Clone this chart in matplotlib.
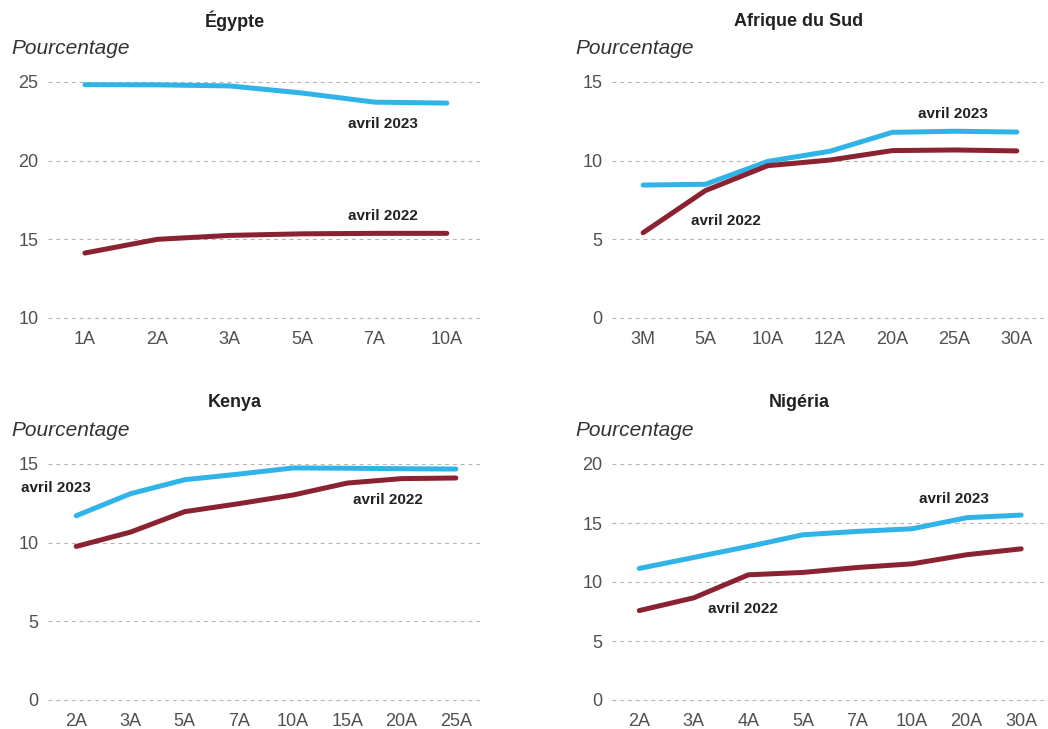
import matplotlib.pyplot as plt

plt.rcParams['font.family'] = ['Liberation Sans', 'DejaVu Sans']

BLUE = '#30b4e8'
RED = '#8a2232'

# Egypte
egypte_mat = ['1A', '2A', '3A', '5A', '7A', '10A']
egypte_2023 = [24.83, 24.82, 24.75, 24.3, 23.72, 23.66]
egypte_2022 = [14.13, 15.0, 15.25, 15.35, 15.38, 15.38]

# Afrique du Sud
rsa_mat = ['3M', '5A', '10A', '12A', '20A', '25A', '30A']
rsa_2023 = [8.45, 8.5, 9.95, 10.6, 11.8, 11.87, 11.82]
rsa_2022 = [5.42, 8.1, 9.68, 10.04, 10.64, 10.68, 10.62]

# Kenya
kenya_mat = ['2A', '3A', '5A', '7A', '10A', '15A', '20A', '25A']
kenya_2023 = [11.71, 13.11, 14.0, 14.36, 14.75, 14.73, 14.7, 14.68]
kenya_2022 = [9.76, 10.67, 11.97, 12.48, 13.03, 13.79, 14.07, 14.11]

# Nigéria
nigeria_mat = ['2A', '3A', '4A', '5A', '7A', '10A', '20A', '30A']
nigeria_2023 = [11.15, 12.08, 13.01, 14.0, 14.29, 14.51, 15.45, 15.67]
nigeria_2022 = [7.58, 8.66, 10.61, 10.81, 11.23, 11.54, 12.31, 12.81]

W, H = 1048, 729
fig = plt.figure(figsize=(W / 100, H / 100), dpi=100)


def px_axes(left, right, top, bottom):
    return fig.add_axes([left / W, 1 - bottom / H, (right - left) / W, (bottom - top) / H])


def panel(ax, title, mat, s2023, s2022, yticks, xlim, lab23, lab22):
    x = range(len(mat))
    ax.plot(x, s2023, color=BLUE, lw=3.6, solid_capstyle='round', zorder=3)
    ax.plot(x, s2022, color=RED, lw=3.6, solid_capstyle='round', zorder=3)
    ax.set_xticks(list(x))
    ax.set_xticklabels(mat)
    ax.set_yticks(yticks)
    ax.set_ylim(yticks[0], yticks[-1])
    ax.set_xlim(*xlim)
    for s in ax.spines.values():
        s.set_visible(False)
    ax.tick_params(length=0, labelsize=13, colors='#505050')
    ax.tick_params(axis='y', pad=7)
    ax.tick_params(axis='x', pad=9)
    ax.yaxis.grid(True, color='#b5b5b5', lw=0.8, ls=(0, (3.5, 3.5)))
    ax.set_axisbelow(True)
    # keep the top and bottom dashed lines whole
    for gl in ax.get_ygridlines():
        gl.set_clip_on(False)

    h = ax.get_position().height * H
    w = ax.get_position().width * W
    ax.text(187 / w, 1 + 61 / h, title, transform=ax.transAxes, ha='center', va='center',
            fontsize=13, fontweight='bold', color='#222222')
    ax.text(-37 / w, 1 + 33 / h, 'Pourcentage', transform=ax.transAxes, ha='left', va='center',
            fontsize=15, style='italic', color='#333333')
    ax.text(lab23[0], lab23[1], 'avril 2023', ha='center', va='center',
            fontsize=11, fontweight='bold', color='#222222')
    ax.text(lab22[0], lab22[1], 'avril 2022', ha='center', va='center',
            fontsize=11, fontweight='bold', color='#222222')


ax1 = px_axes(48, 483, 82, 318)
panel(ax1, 'Égypte', egypte_mat, egypte_2023, egypte_2022, [10, 15, 20, 25],
      (-0.51, 5.5), (4.12, 22.33), (4.12, 16.48))

ax2 = px_axes(612, 1043, 82, 318)
panel(ax2, 'Afrique du Sud', rsa_mat, rsa_2023, rsa_2022, [0, 5, 10, 15],
      (-0.5, 6.42), (4.98, 12.99), (1.33, 6.19))

ax3 = px_axes(48, 483, 464, 700)
panel(ax3, 'Kenya', kenya_mat, kenya_2023, kenya_2022, [0, 5, 10, 15],
      (-0.52, 7.5), (-0.37, 13.45), (5.74, 12.69))

ax4 = px_axes(612, 1043, 464, 700)
panel(ax4, 'Nigéria', nigeria_mat, nigeria_2023, nigeria_2022, [0, 5, 10, 15, 20],
      (-0.5, 7.4), (5.76, 17.04), (1.9, 7.75))

fig.savefig('out.png', dpi=100)
